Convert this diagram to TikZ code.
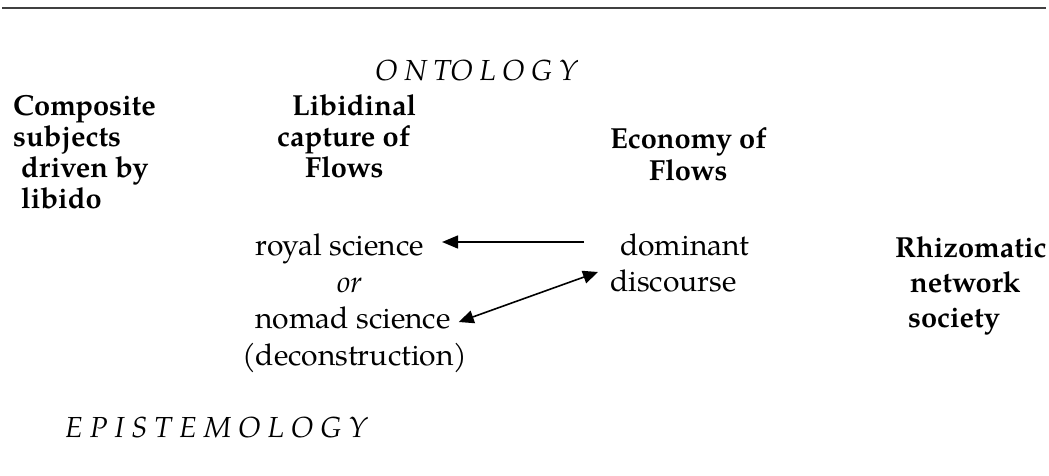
\documentclass[tikz,border=0pt]{standalone}
\usepackage{fontspec}
\setmainfont{texgyrepagella}[Extension=.otf, UprightFont=*-regular, BoldFont=*-bold, ItalicFont=*-italic, BoldItalicFont=*-bolditalic]
\usetikzlibrary{arrows.meta}
\newcommand{\lspo}{\hspace{6.5pt}}
\newcommand{\lspe}{\hspace{7pt}}
\begin{document}
\begin{tikzpicture}[x=1pt,y=-1pt,
  bold/.style={inner sep=0pt,anchor=base west,font=\fontsize{29}{34}\selectfont\bfseries},
  reg/.style={inner sep=0pt,anchor=base west,font=\fontsize{30}{36}\selectfont,text height=21pt,text depth=6pt},
  heading/.style={inner sep=0pt,anchor=base west,font=\fontsize{29}{34}\selectfont\itshape},
  arr/.style={line width=1.6pt,-{Triangle[length=16pt,width=13pt]}},
  darr/.style={line width=1.6pt,{Triangle[length=15pt,width=13pt]}-{Triangle[length=15pt,width=13pt]}}]
\useasboundingbox (0,0) rectangle (1049,475);
\draw[line width=2pt,black!75] (2,8) -- (1046,8);
% headings
\node[heading] (onto) at (375,80) {O\lspo N\lspo TO\lspo L\lspo O\lspo G\lspo Y};
\node[heading] (epis) at (65,437) {E\lspe P\lspe I\lspe S\lspe T\lspe E\lspe M\lspe O\lspe L\lspe O\lspe G\lspe Y};
% left column
\node[bold] (c1) at (13,115) {Composite};
\node[bold] (c2) at (13,146) {subjects};
\node[bold] (c3) at (21,177) {driven by};
\node[bold] (c4) at (21,208) {libido};
% libidinal
\node[bold] (l1) at (292,115) {Libidinal};
\node[bold] (l2) at (277,146) {capture of};
\node[bold] (l3) at (305,177) {Flows};
% economy
\node[bold] (e1) at (610,148) {Economy of};
\node[bold] (e2) at (649,180) {Flows};
% rhizomatic
\node[bold] (r1) at (895,257) {Rhizomatic};
\node[bold] (r2) at (910,292) {network};
\node[bold] (r3) at (908,327) {society};
% sciences
\node[reg] (roy) at (255,255) {royal science};
\node[reg] (or) at (337,292) {\itshape or};
\node[reg] (nom) at (255,328) {nomad science};
\node[reg] (dec) at (242,365) {(deconstruction)};
% discourse
\node[reg] (dom) at (620,255) {dominant};
\node[reg] (dis) at (610,291) {discourse};
% arrows
\draw[arr] ([xshift=-36pt,yshift=5.5pt]dom.west) -- ([xshift=18pt,yshift=5.5pt]roy.east);
\draw[darr] ([xshift=8pt,yshift=-1.5pt]nom.east) -- ([xshift=-12pt,yshift=11.5pt]dis.west);
\end{tikzpicture}
\end{document}
